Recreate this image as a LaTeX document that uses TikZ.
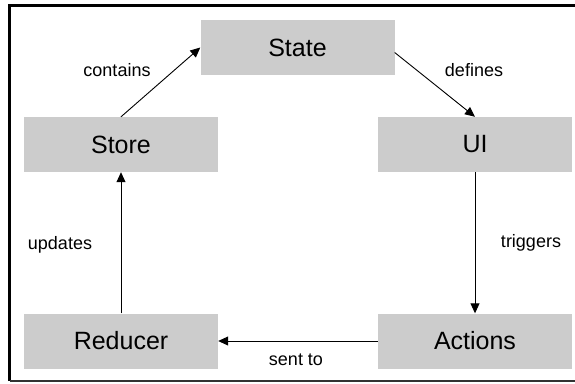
\documentclass[tikz,border=0pt]{standalone}
\usepackage{fontspec}
\setmainfont{Liberation Sans}
\usetikzlibrary{arrows.meta}
\definecolor{boxgray}{RGB}{204,204,204}
\tikzset{
  box/.style={fill=boxgray, draw=none, minimum width=194pt, minimum height=55pt, inner sep=0pt, font=\fontsize{25}{28}\selectfont},
  lbl/.style={font=\fontsize{18}{21}\selectfont, inner sep=0pt},
  conn/.style={draw=black, line width=0.9pt, -{Triangle[length=10pt,width=9pt]}}
}
\begin{document}
\begin{tikzpicture}[x=1pt,y=-1pt]
\useasboundingbox (0,0) rectangle (575,383);
\fill[white] (0,0) rectangle (575,383);
% frame
\draw[line width=3pt] (575,5.5) -- (9.5,5.5) -- (9.5,381);
\draw[line width=1.6pt, black!80] (9.5,381) -- (575,381);
% boxes
\node[box] (state) at (297.5,47.5) {State};
\node[box] (store) at (121,144.5) {Store};
\node[box] (ui) at (475,144.5) {UI};
\node[box] (reducer) at (121,341) {Reducer};
\node[box] (actions) at (475,341) {Actions};
% connectors
\draw[conn] (store.north) -- (state.west);
\draw[conn] (state.east) ++(0,5) coordinate (se) (se) -- (ui.north);
\draw[conn] (ui.south) -- (actions.north);
\draw[conn] (actions.west) -- (reducer.east);
\draw[conn] (reducer.north) -- (store.south);
% labels
\node[lbl] (lcontains) at (117,70) {contains};
\node[lbl] (ldefines) at (474,70) {defines};
\node[lbl] (lupdates) at (60,245) {updates};
\node[lbl] (ltriggers) at (531,243) {triggers};
\node[lbl] (lsent) at (296,360) {sent to};
\end{tikzpicture}
\end{document}
